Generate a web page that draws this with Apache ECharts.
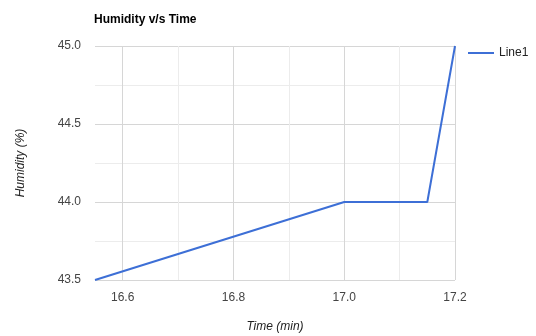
<!DOCTYPE html>
<html><head><meta charset="utf-8">
<script src="https://cdn.jsdelivr.net/npm/echarts@6/dist/echarts.min.js"></script>
<style>html,body{margin:0;padding:0;background:#fff}#c{width:536px;height:336px}</style>
</head><body><div id="c"></div>
<script>
const timeMin = [16.55, 17.0, 17.15, 17.2];
const humidity = [43.5, 44.0, 44.0, 45.0];
const seriesName = 'Line1';
const xTickLabels = ['16.6', '16.8', '17.0', '17.2'];
const yTickLabels = ['43.5', '44.0', '44.5', '45.0'];

const FONT = '"Liberation Sans", Arial, sans-serif';
const major = '#d6d6d6', minor = '#ececec';
const chart = echarts.init(document.getElementById('c'), null, {renderer: 'canvas'});
chart.setOption({
  animation: false,
  textStyle: {fontFamily: FONT},
  title: {text: 'Humidity v/s Time', left: 89, top: 9,
    textStyle: {fontSize: 12, fontWeight: 'bold', color: '#000', fontFamily: FONT}},
  legend: {left: 463, top: 42, itemWidth: 26, itemHeight: 2, itemGap: 6,
    icon: 'path://M0,0H26V2H0Z',
    textStyle: {fontSize: 12, color: '#222', fontFamily: FONT}, data: [seriesName]},
  grid: {left: 95, right: 81, top: 46, bottom: 56, containLabel: false, outerBoundsMode: 'none'},
  xAxis: {type: 'value', min: 16.55, max: 17.2, interval: 0.05,
    name: 'Time (min)', nameLocation: 'middle', nameGap: 41,
    nameTextStyle: {fontStyle: 'italic', fontSize: 12, color: '#222', fontFamily: FONT},
    axisLine: {show: false}, axisTick: {show: false},
    axisLabel: {margin: 12, fontSize: 12, color: '#444', fontFamily: FONT,
      formatter: v => { const s = v.toFixed(1); return (Math.abs(v - parseFloat(s)) < 1e-6 && xTickLabels.includes(s)) ? s : ''; }},
    splitLine: {show: true, lineStyle: {width: 1, color: ['rgba(0,0,0,0)', major, 'rgba(0,0,0,0)', minor]}}
  },
  yAxis: {type: 'value', min: 43.5, max: 45, interval: 0.25,
    name: 'Humidity (%)', nameLocation: 'middle', nameGap: 68, nameRotate: 90,
    nameTextStyle: {fontStyle: 'italic', fontSize: 12, color: '#222', fontFamily: FONT},
    axisLine: {show: false}, axisTick: {show: false},
    axisLabel: {margin: 14, fontSize: 12, color: '#444', fontFamily: FONT,
      formatter: v => { const s = v.toFixed(1); return (Math.abs(v - parseFloat(s)) < 1e-6 && yTickLabels.includes(s)) ? s : ''; }},
    splitLine: {show: true, lineStyle: {width: 1, color: [major, minor]}}
  },
  series: [{name: seriesName, type: 'line', data: timeMin.map((t, i) => [t, humidity[i]]),
    showSymbol: false, symbol: 'none', lineStyle: {width: 2, color: '#3d6fd6'}, itemStyle: {color: '#3d6fd6'}}]
});
</script></body></html>
